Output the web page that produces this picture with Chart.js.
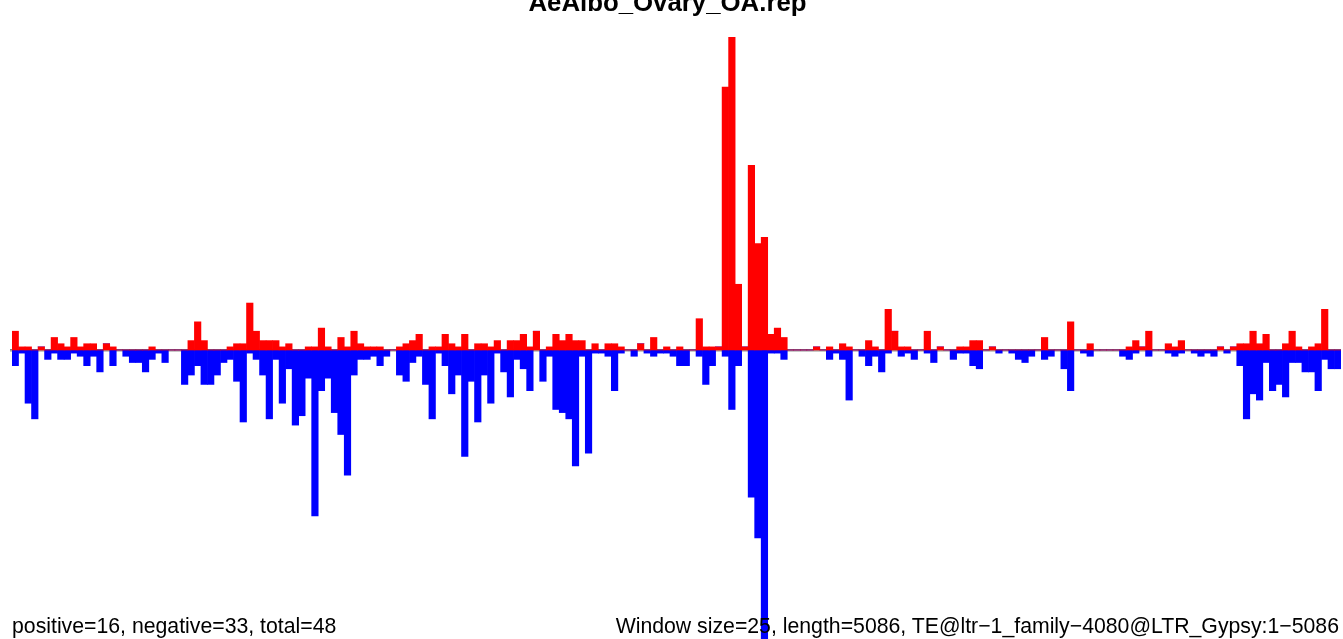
<!DOCTYPE html>
<html>
<head>
<meta charset="utf-8">
<script src="https://cdn.jsdelivr.net/npm/chart.js@4.4.1/dist/chart.umd.min.js"></script>
<style>
  html, body { margin: 0; padding: 0; background: #fff; overflow: hidden; width: 1343px; height: 639px; }
  #wrap { position: relative; width: 1343px; height: 639px; overflow: hidden; }
  canvas { position: absolute; left: 0; top: 0; }
  .txt { position: absolute; font-family: "Liberation Sans", Arial, sans-serif; line-height: 1; white-space: nowrap; color: #000; }
  #title { font-weight: bold; font-size: 25.8px; top: -9.7px; left: -4px; width: 1343px; text-align: center; }
  #foot-left { font-size: 21.25px; top: 616px; left: 12px; }
  #foot-right { font-size: 21.25px; top: 616px; right: 4px; }
</style>
</head>
<body>
<div id="wrap">
  <canvas id="c" width="1343" height="670"></canvas>
  <div class="txt" id="title">AeAlbo_Ovary_OA.rep</div>
  <div class="txt" id="foot-left">positive=16, negative=33, total=48</div>
  <div class="txt" id="foot-right">Window size=25, length=5086, TE@ltr−1_family−4080@LTR_Gypsy:1−5086</div>
</div>
<script>
// Window bins (25 bp each) along the TE, 204 windows
const windowSize = 25;
const teLength = 5086;
const binCount = 204;
const bins = Array.from({ length: binCount }, (_, i) => String(i * windowSize + 1));

// Positive-strand counts per window (red, drawn upward)
const positive = [
  6,1,1,0,1,0,4,2,1,4, 1,2,2,0,2,1,0,0,0,0, 0,1,0,0,0,0,0,3,9,3,
  0,0,0,1,2,2,15,6,3,3, 3,1,2,0,0,1,1,7,1,0, 4,1,6,2,1,1,1,0,0,1,
  2,3,5,0,1,1,5,2,1,5, 0,2,2,1,3,0,3,3,5,1, 6,0,1,5,3,5,3,3,0,2,
  0,2,2,1,0,0,2,0,4,0, 1,0,1,0,0,10,1,1,1,84, 100,21,1,59,34,36,5,7,4,0,
  0,0,0,1,0,1,0,2,1,0, 0,3,1,0,13,6,1,1,0,0, 6,0,1,0,0,1,1,3,3,0,
  1,0,0,0,0,0,0,0,4,0, 0,0,9,0,0,2,0,0,0,0, 0,1,3,1,6,0,0,2,1,3,
  0,0,0,0,0,1,0,1,2,2, 6,2,5,0,0,2,6,1,0,1, 2,13,0,0
];

// Negative-strand counts per window (blue, drawn downward)
const negative = [
  5,1,17,22,0,3,1,3,3,1, 2,5,2,7,0,5,0,2,4,4, 7,3,1,4,0,0,11,8,5,11,
  11,8,4,3,10,23,1,3,8,22, 3,17,6,24,21,9,53,13,9,20, 27,40,8,3,3,2,5,2,0,8,
  10,4,2,11,22,1,5,14,8,34, 10,23,8,17,1,7,15,3,6,13, 0,10,2,19,20,22,37,2,33,1,
  1,2,13,1,0,2,0,1,2,1, 1,2,5,5,0,2,11,5,0,2, 19,5,0,47,60,100,1,1,3,0,
  0,0,0,0,0,3,1,3,16,0, 2,5,2,7,1,0,2,1,3,0, 1,4,0,0,3,1,1,5,6,0,
  0,1,0,1,3,4,2,0,3,2, 0,6,13,0,1,2,0,0,0,0, 2,3,1,0,2,0,0,1,2,1,
  0,1,2,1,2,0,1,0,5,22, 14,16,4,13,11,15,4,4,7,7, 13,3,6,6
];

const baselinePlugin = {
  id: 'baseline',
  beforeDatasetsDraw(chart) {
    const { ctx, chartArea, scales } = chart;
    const y = Math.round(scales.y.getPixelForValue(0));
    ctx.save();
    ctx.fillStyle = '#c8c8c8';
    ctx.fillRect(chartArea.left - 2, y, chartArea.right - chartArea.left + 2, 2);
    ctx.fillStyle = '#7f7f7f';
    ctx.fillRect(chartArea.left - 2, y - 1, chartArea.right - chartArea.left + 2, 1.5);
    ctx.restore();
  }
};

new Chart(document.getElementById('c'), {
  type: 'bar',
  data: {
    labels: bins,
    datasets: [
      { label: 'positive', data: positive, backgroundColor: '#ff0000', borderWidth: 0, barPercentage: 1, categoryPercentage: 1 },
      { label: 'negative', data: negative.map(v => -v), backgroundColor: '#0000ff', borderWidth: 0, barPercentage: 1, categoryPercentage: 1 }
    ]
  },
  options: {
    responsive: false,
    animation: false,
    devicePixelRatio: 1,
    layout: { padding: { left: 12, right: 2, top: 37, bottom: 7 } },
    plugins: { legend: { display: false }, tooltip: { enabled: false }, title: { display: false } },
    scales: {
      x: { stacked: true, display: false, grid: { display: false } },
      y: { stacked: true, display: false, min: -100, max: 100, grid: { display: false } }
    }
  },
  plugins: [baselinePlugin]
});
</script>
</body>
</html>
